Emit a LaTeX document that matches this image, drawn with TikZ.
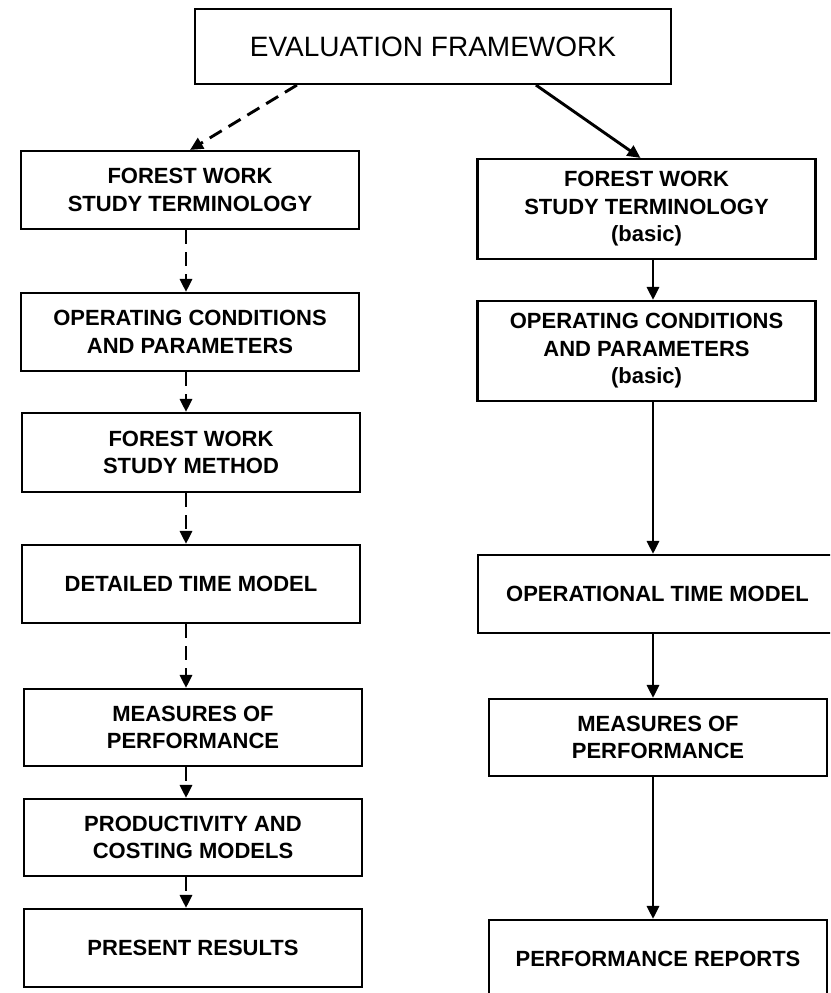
\documentclass[tikz,border=0pt]{standalone}
\usepackage{fontspec}
\setmainfont{Liberation Sans}
\usetikzlibrary{arrows.meta,positioning,calc}

\begin{document}
\begin{tikzpicture}[
  x=1pt,y=-1pt,
  box/.style={draw,line width=2.1pt,minimum width=338pt,minimum height=78pt,
              align=center,inner sep=0pt,font=\bfseries\fontsize{22}{27.5}\selectfont},
  title/.style={box,minimum width=476pt,minimum height=75pt,
              font=\fontsize{28}{34}\selectfont},
  edge/.style={-{Triangle[length=13pt,width=12pt]},line width=2.9pt},
  plan/.style={edge,dash pattern=on 14pt off 8pt}
]
  \useasboundingbox (0,0) rectangle (830,993);
  \clip (0,0) rectangle (830,993);

  \node[title] (eval) at (433,46.5) {EVALUATION FRAMEWORK};

  % detailed study route
  \node[box] (term) at (190,190) {FOREST WORK\\STUDY TERMINOLOGY};
  \node[box] (cond) at (190,332) {OPERATING CONDITIONS\\AND PARAMETERS};
  \node[box,minimum height=79pt] (meth) at (191,452.5) {FOREST WORK\\STUDY METHOD};
  \node[box] (dtm) at (191,584) {DETAILED TIME MODEL};
  \node[box,minimum height=77pt] (perf) at (193,727.5) {MEASURES OF\\PERFORMANCE};
  \node[box,minimum height=77pt] (cost) at (193,837.5) {PRODUCTIVITY AND\\COSTING MODELS};
  \node[box] (res) at (193,948) {PRESENT RESULTS};

  % basic route
  \node[box,minimum height=100pt] (bterm) at (646.5,209)
    {FOREST WORK\\STUDY TERMINOLOGY\\(basic)};
  \node[box,minimum height=100pt] (bcond) at (646.5,351)
    {OPERATING CONDITIONS\\AND PARAMETERS\\(basic)};
  \node[box,minimum width=359pt] (otm) at (657.5,594) {OPERATIONAL TIME MODEL};
  \node[box,minimum height=77pt] (bperf) at (658,737.5) {MEASURES OF\\PERFORMANCE};
  \node[box] (rep) at (658,959) {PERFORMANCE REPORTS};

  \coordinate (lx) at (186,0);
  \coordinate (rx) at (653,0);

  \draw[plan] ($(eval.south west)+(103,0)$) -- (term.north);
  \draw[edge] ($(eval.south west)+(342,0)$) -- ($(bterm.north)+(-6,0)$);

  \draw[plan] (term.south -| lx) -- (cond.north -| lx);
  \draw[plan] (cond.south -| lx) -- (meth.north -| lx);
  \draw[plan] (meth.south -| lx) -- (dtm.north -| lx);
  \draw[plan] (dtm.south -| lx) -- (perf.north -| lx);
  \draw[plan] (perf.south -| lx) -- (cost.north -| lx);
  \draw[plan] (cost.south -| lx) -- (res.north -| lx);

  \draw[edge] (bterm.south -| rx) -- (bcond.north -| rx);
  \draw[edge] (bcond.south -| rx) -- (otm.north -| rx);
  \draw[edge] (otm.south -| rx) -- (bperf.north -| rx);
  \draw[edge] (bperf.south -| rx) -- (rep.north -| rx);
\end{tikzpicture}
\end{document}
